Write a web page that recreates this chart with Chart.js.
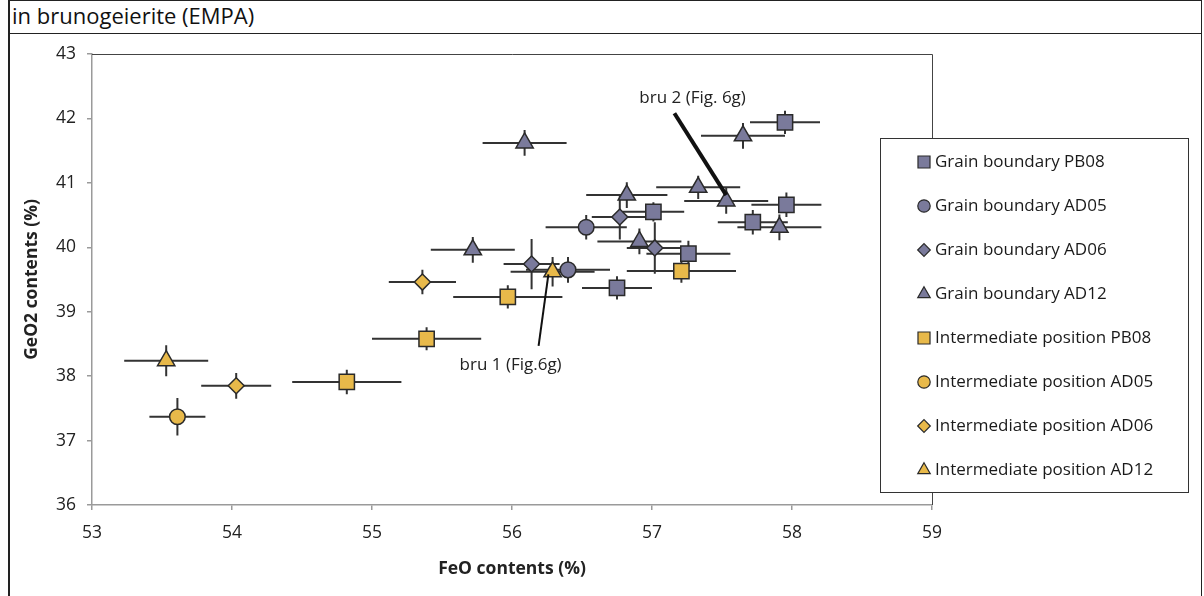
<!DOCTYPE html>
<html>
<head>
<meta charset="utf-8">
<script src="https://cdn.jsdelivr.net/npm/chart.js@4.4.1/dist/chart.umd.min.js"></script>
<style>
  html, body { margin: 0; padding: 0; background: #fff; }
  body { width: 1204px; height: 596px; position: relative; overflow: hidden; font-family: "Open Sans", sans-serif; }
  #frame { position: absolute; left: 8px; top: 0; width: 1194px; height: 610px; border: 1px solid #222; border-left: 2px solid #222; box-sizing: border-box; }
  #title { position: absolute; left: 8px; top: 0; width: 1194px; height: 34px; border-bottom: 1px solid #222; box-sizing: border-box;
           font-size: 22px; line-height: 31px; padding-left: 4px; color: #111; }
  #c { position: absolute; left: 0; top: 0; }
</style>
</head>
<body>
<div id="frame"></div>
<div id="title">in brunogeierite (EMPA)</div>
<canvas id="c" width="1204" height="596"></canvas>
<script>
// ---------- data ----------
const seriesNames = [
  'Grain boundary PB08', 'Grain boundary AD05', 'Grain boundary AD06', 'Grain boundary AD12',
  'Intermediate position PB08', 'Intermediate position AD05', 'Intermediate position AD06', 'Intermediate position AD12'
];
const xTickValues = [53, 54, 55, 56, 57, 58, 59];
const yTickValues = [36, 37, 38, 39, 40, 41, 42, 43];

// Grain boundary PB08
const gbPB08X    = [57.95, 57.01, 57.26, 56.75, 57.72, 57.96];
const gbPB08Y    = [41.94, 40.55, 39.90, 39.37, 40.39, 40.66];
const gbPB08XErr = [0.25, 0.22, 0.30, 0.25, 0.25, 0.25];
const gbPB08YErr = [0.18, 0.15, 0.20, 0.18, 0.19, 0.19];
// Grain boundary AD05
const gbAD05X    = [56.53, 56.40];
const gbAD05Y    = [40.31, 39.65];
const gbAD05XErr = [0.29, 0.30];
const gbAD05YErr = [0.19, 0.20];
// Grain boundary AD06
const gbAD06X    = [56.77, 57.02, 56.14];
const gbAD06Y    = [40.47, 39.99, 39.74];
const gbAD06XErr = [0.20, 0.20, 0.20];
const gbAD06YErr = [0.35, 0.40, 0.39];
// Grain boundary AD12
const gbAD12X    = [56.09, 55.72, 56.82, 57.33, 57.53, 57.65, 57.91, 56.91];
const gbAD12Y    = [41.62, 39.96, 40.81, 40.93, 40.72, 41.73, 40.31, 40.09];
const gbAD12XErr = [0.30, 0.30, 0.29, 0.30, 0.30, 0.30, 0.30, 0.30];
const gbAD12YErr = [0.20, 0.20, 0.20, 0.18, 0.20, 0.20, 0.20, 0.20];
// Intermediate position PB08
const ipPB08X    = [55.97, 55.39, 54.82, 57.21];
const ipPB08Y    = [39.23, 38.58, 37.91, 39.63];
const ipPB08XErr = [0.39, 0.39, 0.39, 0.39];
const ipPB08YErr = [0.18, 0.18, 0.19, 0.18];
// Intermediate position AD05
const ipAD05X    = [53.61];
const ipAD05Y    = [37.37];
const ipAD05XErr = [0.20];
const ipAD05YErr = [0.29];
// Intermediate position AD06
const ipAD06X    = [55.36, 54.03];
const ipAD06Y    = [39.46, 37.85];
const ipAD06XErr = [0.24, 0.25];
const ipAD06YErr = [0.19, 0.20];
// Intermediate position AD12
const ipAD12X    = [53.53, 56.29];
const ipAD12Y    = [38.24, 39.62];
const ipAD12XErr = [0.30, 0.30];
const ipAD12YErr = [0.24, 0.23];

// annotations (data coordinates)
const annoLabels = ['bru 1 (Fig.6g)', 'bru 2 (Fig. 6g)'];
const annoTextX  = [55.99, 57.29];
const annoTextY  = [38.17, 42.32];
const annoFromX  = [56.19, 57.16];
const annoFromY  = [38.47, 42.08];
const annoToX    = [56.26, 57.53];
const annoToY    = [39.58, 40.81];

// ---------- styles ----------
const GRAY = '#7a7a9b';
const GOLD = '#e8b94a';
const EDGE = '#2a2a2a';
const FONT = '"Open Sans", "DejaVu Sans", sans-serif';

const seriesData = [
  [gbPB08X, gbPB08Y, gbPB08XErr, gbPB08YErr],
  [gbAD05X, gbAD05Y, gbAD05XErr, gbAD05YErr],
  [gbAD06X, gbAD06Y, gbAD06XErr, gbAD06YErr],
  [gbAD12X, gbAD12Y, gbAD12XErr, gbAD12YErr],
  [ipPB08X, ipPB08Y, ipPB08XErr, ipPB08YErr],
  [ipAD05X, ipAD05Y, ipAD05XErr, ipAD05YErr],
  [ipAD06X, ipAD06Y, ipAD06XErr, ipAD06YErr],
  [ipAD12X, ipAD12Y, ipAD12XErr, ipAD12YErr]
];
const shapeStyles = [
  { style: 'rect',     radius: 10.8, legendRadius: 8.5 },
  { style: 'circle',   radius: 7.8,  legendRadius: 6.2 },
  { style: 'rectRot',  radius: 8.0,  legendRadius: 6.3 },
  { style: 'triangle', radius: 10.0, legendRadius: 7.2 }
];

const datasets = seriesData.map((s, i) => {
  const shp = shapeStyles[i % 4];
  const fill = i < 4 ? GRAY : GOLD;
  return {
    label: seriesNames[i],
    data: s[0].map((v, j) => ({ x: v, y: s[1][j] })),
    errX: s[2],
    errY: s[3],
    pointStyle: shp.style,
    pointRadius: shp.radius,
    pointHoverRadius: shp.radius,
    legendRadius: shp.legendRadius,
    backgroundColor: fill,
    borderColor: EDGE,
    borderWidth: 1.5,
    showLine: false
  };
});

// ---------- plugins ----------
const plotFrame = {
  id: 'plotFrame',
  beforeDatasetsDraw(chart) {
    const { ctx, chartArea: a } = chart;
    ctx.save();
    ctx.strokeStyle = '#444';
    ctx.lineWidth = 1;
    ctx.beginPath();
    ctx.moveTo(a.left, a.top + 0.5);
    ctx.lineTo(a.right + 0.5, a.top + 0.5);
    ctx.lineTo(a.right + 0.5, a.bottom);
    ctx.stroke();
    ctx.restore();
  }
};

const errorBars = {
  id: 'errorBars',
  beforeDatasetsDraw(chart) {
    const { ctx } = chart;
    const xs = chart.scales.x, ys = chart.scales.y;
    ctx.save();
    ctx.strokeStyle = '#333';
    ctx.lineWidth = 2;
    chart.data.datasets.forEach((ds, i) => {
      if (!chart.isDatasetVisible(i)) return;
      ds.data.forEach((p, j) => {
        const px = xs.getPixelForValue(p.x);
        const py = ys.getPixelForValue(p.y);
        ctx.beginPath();
        ctx.moveTo(xs.getPixelForValue(p.x - ds.errX[j]), py);
        ctx.lineTo(xs.getPixelForValue(p.x + ds.errX[j]), py);
        ctx.moveTo(px, ys.getPixelForValue(p.y - ds.errY[j]));
        ctx.lineTo(px, ys.getPixelForValue(p.y + ds.errY[j]));
        ctx.stroke();
      });
    });
    ctx.restore();
  }
};

const annotations = {
  id: 'annotations',
  afterDatasetsDraw(chart) {
    const { ctx } = chart;
    const xs = chart.scales.x, ys = chart.scales.y;
    const widths = [2, 4];
    ctx.save();
    ctx.strokeStyle = '#111';
    ctx.lineCap = 'butt';
    annoLabels.forEach((t, i) => {
      ctx.lineWidth = widths[i];
      ctx.beginPath();
      ctx.moveTo(xs.getPixelForValue(annoFromX[i]), ys.getPixelForValue(annoFromY[i]));
      ctx.lineTo(xs.getPixelForValue(annoToX[i]), ys.getPixelForValue(annoToY[i]));
      ctx.stroke();
      ctx.fillStyle = '#222';
      ctx.font = '17px ' + FONT;
      ctx.textAlign = 'center';
      ctx.textBaseline = 'middle';
      ctx.fillText(t, xs.getPixelForValue(annoTextX[i]), ys.getPixelForValue(annoTextY[i]));
    });
    ctx.restore();
  }
};

const boxLegend = {
  id: 'boxLegend',
  afterDraw(chart) {
    const { ctx } = chart;
    const L = 880, T = 138, W = 308, H = 354;
    ctx.save();
    ctx.fillStyle = '#fff';
    ctx.fillRect(L, T, W, H);
    ctx.strokeStyle = '#333';
    ctx.lineWidth = 1;
    ctx.strokeRect(L + 0.5, T + 0.5, W, H);
    ctx.font = '17px ' + FONT;
    ctx.textAlign = 'left';
    ctx.textBaseline = 'middle';
    chart.data.datasets.forEach((ds, i) => {
      const cy = T + 24 + i * 44;
      ctx.fillStyle = ds.backgroundColor;
      ctx.strokeStyle = EDGE;
      ctx.lineWidth = 1.2;
      Chart.helpers.drawPoint(ctx, { pointStyle: ds.pointStyle, radius: ds.legendRadius, rotation: 0, borderWidth: 1.2 }, L + 44, cy);
      ctx.fillStyle = '#1a1a1a';
      ctx.fillText(ds.label, L + 55, cy);
    });
    ctx.restore();
  }
};

function draw() {
  new Chart(document.getElementById('c'), {
    type: 'scatter',
    data: { datasets },
    plugins: [plotFrame, errorBars, annotations, boxLegend],
    options: {
      responsive: false,
      animation: false,
      devicePixelRatio: 1,
      layout: { padding: { left: 0, right: 272, top: 54, bottom: 0 } },
      plugins: { legend: { display: false }, tooltip: { enabled: false } },
      scales: {
        x: {
          type: 'linear',
          min: xTickValues[0],
          max: xTickValues[xTickValues.length - 1],
          afterBuildTicks: s => { s.ticks = xTickValues.map(v => ({ value: v })); },
          afterFit: s => { s.height = 91; },
          ticks: { color: '#222', font: { family: FONT, size: 17.5 }, padding: 13 },
          grid: { drawOnChartArea: false, drawTicks: true, tickLength: 5, color: '#9a9a9a', lineWidth: 1.5 },
          border: { color: '#9a9a9a', width: 1.5 },
          title: { display: true, text: 'FeO contents (%)', color: '#222',
                   font: { family: FONT, size: 17.5, weight: 'bold' }, padding: { top: 0, bottom: 16 } }
        },
        y: {
          type: 'linear',
          min: yTickValues[0],
          max: yTickValues[yTickValues.length - 1],
          afterBuildTicks: s => { s.ticks = yTickValues.map(v => ({ value: v })); },
          afterFit: s => { s.width = 92; },
          ticks: { color: '#222', font: { family: FONT, size: 17.5 }, padding: 11 },
          grid: { drawOnChartArea: false, drawTicks: true, tickLength: 5, color: '#9a9a9a', lineWidth: 1.5 },
          border: { color: '#9a9a9a', width: 1.5 },
          title: { display: true, text: 'GeO2 contents (%)', color: '#222',
                   font: { family: FONT, size: 17.5, weight: 'bold' }, padding: { top: 22, bottom: 0 } }
        }
      }
    }
  });
}
if (document.fonts && document.fonts.load) {
  Promise.all([document.fonts.load('16px "Open Sans"'), document.fonts.load('bold 16px "Open Sans"')])
    .then(draw, draw);
} else {
  draw();
}
</script>
</body>
</html>
